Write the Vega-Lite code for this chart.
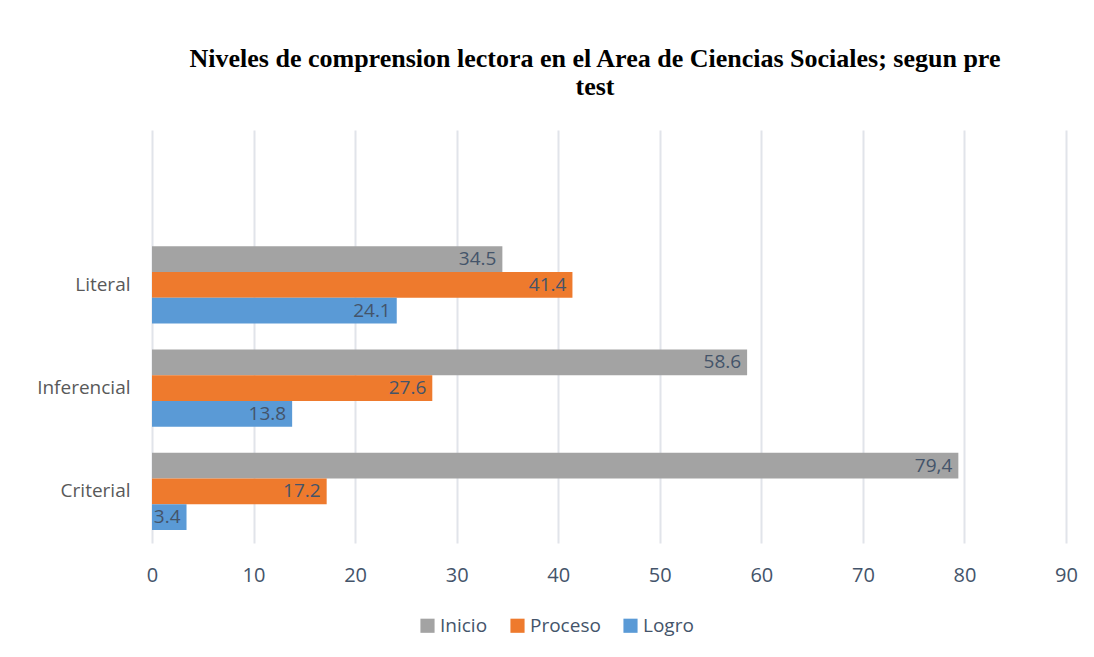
{
  "$schema": "https://vega.github.io/schema/vega-lite/v6.json",
  "width": 914,
  "height": 413,
  "autosize": {"type": "none"},
  "padding": {"left": 152, "top": 130, "right": 28, "bottom": 114},
  "background": "white",
  "title": {
    "text": ["Niveles de comprension lectora  en el Area de Ciencias Sociales; segun pre", "test"],
    "font": "Liberation Serif",
    "fontSize": 26,
    "fontWeight": "bold",
    "color": "#000000",
    "anchor": "middle",
    "dx": -14,
    "offset": 30,
    "lineHeight": 28
  },
  "data": {
    "values": [
      {"nivel": "Literal", "serie": "Inicio", "valor": 34.5, "etiqueta": "34.5"},
      {"nivel": "Literal", "serie": "Proceso", "valor": 41.4, "etiqueta": "41.4"},
      {"nivel": "Literal", "serie": "Logro", "valor": 24.1, "etiqueta": "24.1"},
      {"nivel": "Inferencial", "serie": "Inicio", "valor": 58.6, "etiqueta": "58.6"},
      {"nivel": "Inferencial", "serie": "Proceso", "valor": 27.6, "etiqueta": "27.6"},
      {"nivel": "Inferencial", "serie": "Logro", "valor": 13.8, "etiqueta": "13.8"},
      {"nivel": "Criterial", "serie": "Inicio", "valor": 79.4, "etiqueta": "79,4"},
      {"nivel": "Criterial", "serie": "Proceso", "valor": 17.2, "etiqueta": "17.2"},
      {"nivel": "Criterial", "serie": "Logro", "valor": 3.4, "etiqueta": "3.4"}
    ]
  },
  "encoding": {
    "y": {
      "field": "nivel",
      "type": "nominal",
      "scale": {"domain": [" ", "Literal", "Inferencial", "Criterial"], "paddingInner": 0.25, "paddingOuter": 0.125},
      "axis": {
        "title": null,
        "domain": false,
        "ticks": false,
        "labelFont": "Open Sans",
        "labelFontSize": 19,
        "labelColor": "#595959",
        "labelPadding": 22
      }
    },
    "yOffset": {
      "field": "serie",
      "type": "nominal",
      "sort": ["Inicio", "Proceso", "Logro"],
      "scale": {"paddingInner": 0, "paddingOuter": 0}
    },
    "x": {
      "field": "valor",
      "type": "quantitative",
      "scale": {"domain": [0, 90], "nice": false},
      "axis": {
        "title": null,
        "values": [0, 10, 20, 30, 40, 50, 60, 70, 80, 90],
        "domain": false,
        "ticks": false,
        "grid": true,
        "gridColor": "#E1E4EA",
        "gridWidth": 2,
        "labelFlush": false,
        "labelFont": "Open Sans",
        "labelFontSize": 20,
        "labelColor": "#44546A",
        "labelPadding": 22
      }
    }
  },
  "layer": [
    {
      "mark": {"type": "bar"},
      "encoding": {
        "color": {
          "field": "serie",
          "type": "nominal",
          "sort": ["Inicio", "Proceso", "Logro"],
          "scale": {"domain": ["Inicio", "Proceso", "Logro"], "range": ["#A3A3A3", "#EE7A2D", "#5A9AD6"]},
          "legend": {
            "title": null,
            "orient": "none",
            "direction": "horizontal",
            "legendX": 266,
            "legendY": 486,
            "symbolType": "square",
            "symbolSize": 200,
            "symbolStrokeWidth": 0,
            "labelFont": "Open Sans",
            "labelFontSize": 19,
            "labelColor": "#44546A",
            "labelOffset": 3,
            "columnPadding": 20
          }
        }
      }
    },
    {
      "mark": {"type": "text", "align": "right", "baseline": "middle", "dx": -6, "font": "Open Sans", "fontSize": 19, "color": "#44546A"},
      "encoding": {
        "text": {"field": "etiqueta", "type": "nominal"}
      }
    }
  ],
  "config": {"view": {"stroke": null}}
}
